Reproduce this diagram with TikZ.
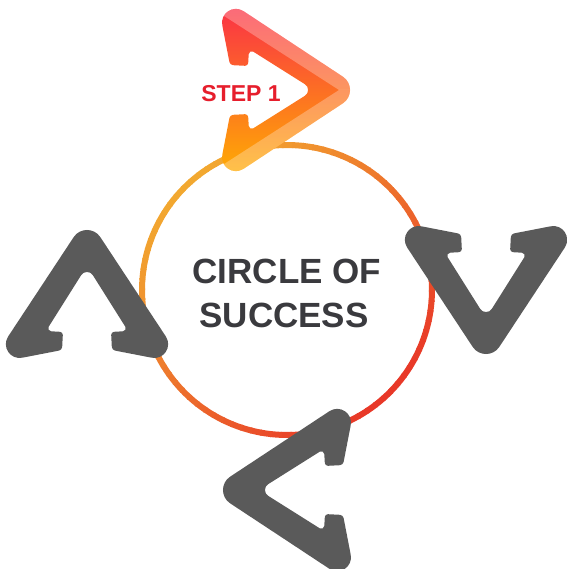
\documentclass[tikz,border=0pt]{standalone}
\usepackage{fontspec}
\setmainfont{Liberation Sans}
\definecolor{cA}{RGB}{242,168,48}
\definecolor{cB}{RGB}{232,56,40}
\definecolor{chevgray}{RGB}{90,90,90}
\definecolor{txtgray}{RGB}{58,58,62}
\definecolor{steptxt}{RGB}{230,30,44}
\definecolor{s1}{RGB}{250,45,72}
\definecolor{s2}{RGB}{255,138,22}
\definecolor{s3}{RGB}{255,176,0}
\def\chevpath{(-48.5,60.5) -- (-78.8,106.4) .. controls (-85.6,116.8) and (-76.8,130.1) .. (-64.6,127.7) -- (-28.0,120.6) .. controls (-26.3,120.2) and (-24.9,118.7) .. (-24.8,116.9) -- (-24.2,105.0) .. controls (-24.1,103.3) and (-25.3,101.9) .. (-27.0,101.8) -- (-35.9,101.3) .. controls (-38.2,101.2) and (-39.5,98.6) .. (-38.3,96.7) -- (-5.8,45.1) .. controls (-3.1,40.9) and (3.1,40.9) .. (5.8,45.1) -- (38.3,96.7) .. controls (39.5,98.6) and (38.2,101.2) .. (35.9,101.3) -- (27.0,101.8) .. controls (25.3,101.9) and (24.1,103.3) .. (24.2,105.0) -- (24.8,116.9) .. controls (24.9,118.7) and (26.3,120.2) .. (28.0,120.6) -- (64.6,127.7) .. controls (76.8,130.1) and (85.6,116.8) .. (78.8,106.4) -- (13.3,7.1) .. controls (7.0,-2.4) and (-7.0,-2.4) .. (-13.3,7.1) -- cycle}
\tikzset{
  ring/.style={line width=6pt},
  maintext/.style={font=\bfseries\fontsize{35}{42}\selectfont, text=txtgray, anchor=base, inner sep=0pt},
  steplabel/.style={font=\bfseries\fontsize{23}{28}\selectfont, text=steptxt, anchor=base, inner sep=0pt},
  shine/.style={white, opacity=0.28}
}
\begin{document}
\begin{tikzpicture}[x=1pt,y=-1pt]
\useasboundingbox (0,0) rectangle (566,569);
% gradient ring
\foreach \a in {0,4,...,356}{
  \pgfmathsetmacro\t{50*(1+cos(\a-45))}
  \draw[ring, cB!\t!cA] (287,290) ++(\a:145) arc[start angle=\a, end angle=\a+4.6, radius=145];
}
% gray chevrons
\fill[chevgray, shift={(87,230)}] \chevpath;
\fill[chevgray, shift={(486,354)}, rotate=180] \chevpath;
\fill[chevgray, shift={(223,490)}, rotate=90] \chevpath;
% step 1 chevron
\begin{scope}
  \clip[shift={(350,90)}, rotate=-90] \chevpath;
  \shade[top color=s1, middle color=s2, bottom color=s3] (200,1) rectangle (370,179);
  \fill[shine] (339,90) -- (207,5) -- (200,-30) -- (380,90) -- cycle;
  \fill[shine] (339,90) -- (207,175) -- (200,210) -- (380,90) -- cycle;
\end{scope}
% texts
\node[steplabel] (step) at (241,101.5) {STEP 1};
\node[maintext] (l1) at (287,283) {CIRCLE OF};
\node[maintext] (l2) at (284,327) {SUCCESS};
\end{tikzpicture}
\end{document}
